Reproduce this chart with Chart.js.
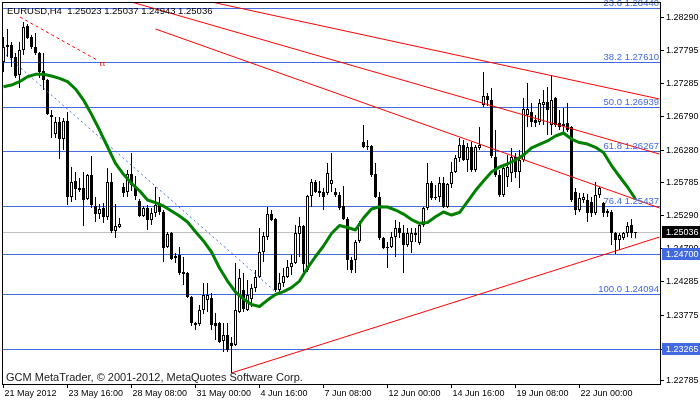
<!DOCTYPE html>
<html>
<head>
<meta charset="utf-8">
<script src="https://cdn.jsdelivr.net/npm/chart.js@4.4.1/dist/chart.umd.min.js"></script>
<style>
html, body { margin: 0; padding: 0; background: #fff; }
</style>
</head>
<body>
<canvas id="chart" width="700" height="402"></canvas>
<script>
// EURUSD H4, one entry per bar (bar 0 = 21 May 2012 00:00)
const opens = [
1.27615,1.27842,1.27872,1.27690,1.27417,1.27796,1.28160,1.27993,1.27842,1.27751,
1.27478,1.27342,1.26811,1.26523,1.26706,1.26448,1.26721,1.25569,1.25812,1.25706,
1.25706,1.25539,1.25902,1.25433,1.25311,1.25403,1.25266,1.25797,1.25054,1.25115,
1.25721,1.25645,1.25917,1.25736,1.25509,1.25281,1.25403,1.25221,1.25327,1.25448,
1.25342,1.24812,1.25024,1.24645,1.24690,1.24433,1.24418,1.24054,1.23629,1.23644,
1.23857,1.24008,1.24039,1.23660,1.23660,1.23387,1.23478,1.23357,1.23326,1.23827,
1.24160,1.23857,1.24024,1.24190,1.24357,1.24736,1.24963,1.25311,1.25236,1.24160,
1.24266,1.24357,1.24508,1.24569,1.25008,1.25130,1.24463,1.25584,1.25797,1.25660,
1.25645,1.25630,1.25766,1.25645,1.25599,1.25433,1.25236,1.24614,1.24614,1.24903,
1.26403,1.26342,1.26342,1.25917,1.25569,1.24948,1.24812,1.24812,1.24963,1.25100,
1.25024,1.24842,1.24888,1.25024,1.24873,1.25145,1.25403,1.25782,1.25569,1.25569,
1.25782,1.25418,1.25766,1.25948,1.26160,1.26357,1.26130,1.26327,1.25978,1.26312,
1.26963,1.27099,1.27039,1.26175,1.25902,1.25599,1.25872,1.25933,1.26175,1.25948,
1.26130,1.26811,1.26857,1.26736,1.26706,1.26963,1.27009,1.26660,1.27069,1.26691,
1.26676,1.26691,1.26630,1.25645,1.25372,1.25524,1.25524,1.25494,1.25327,1.25599,
1.25479,1.25327,1.25342,1.25024,1.24918,1.24948,1.25024,1.25145,1.25023
];
const highs = [
1.27993,1.28115,1.27918,1.27751,1.27918,1.28221,1.28190,1.28023,1.28054,1.27766,
1.27751,1.27357,1.26887,1.26781,1.26781,1.26766,1.26857,1.26024,1.25948,1.25857,
1.25948,1.25917,1.26190,1.25569,1.25463,1.25479,1.26009,1.25933,1.25463,1.25251,
1.25782,1.25978,1.26236,1.25887,1.25539,1.25433,1.25448,1.25403,1.25721,1.25569,
1.25372,1.25039,1.25039,1.24721,1.24812,1.24660,1.24433,1.24069,1.23675,1.23932,
1.24266,1.24266,1.24115,1.23812,1.23675,1.23660,1.23660,1.23448,1.24569,1.24478,
1.24418,1.24311,1.24250,1.24463,1.25100,1.25039,1.25418,1.25372,1.25251,1.24418,
1.24493,1.24614,1.24690,1.25145,1.25266,1.25145,1.25599,1.25842,1.25827,1.25812,
1.25706,1.26085,1.26236,1.25706,1.25645,1.25736,1.25266,1.24660,1.24918,1.25206,
1.26660,1.26433,1.26357,1.26085,1.25645,1.24963,1.24888,1.25039,1.25221,1.25191,
1.25145,1.25100,1.25100,1.25100,1.25176,1.25418,1.26085,1.25812,1.25751,1.25872,
1.25872,1.25782,1.26100,1.26205,1.26463,1.26433,1.26388,1.26403,1.26357,1.26630,
1.27463,1.27145,1.27221,1.26584,1.25978,1.26024,1.26205,1.26312,1.26236,1.26281,
1.27069,1.27297,1.26994,1.26811,1.27054,1.27190,1.27236,1.27417,1.27084,1.26887,
1.26918,1.26994,1.26645,1.25706,1.25630,1.25630,1.25615,1.25569,1.25797,1.25721,
1.25494,1.25388,1.25372,1.25039,1.25024,1.25039,1.25191,1.25236,1.25037
];
const lows = [
1.27463,1.27690,1.27539,1.27372,1.27221,1.27720,1.27963,1.27812,1.27720,1.27372,
1.27190,1.26811,1.26463,1.26463,1.26145,1.26281,1.25448,1.25494,1.25524,1.25645,
1.25130,1.25524,1.25403,1.25191,1.25236,1.25176,1.25221,1.25024,1.24948,1.25100,
1.25569,1.25569,1.25660,1.25524,1.25266,1.25266,1.25069,1.25145,1.25266,1.25296,
1.24584,1.24797,1.24614,1.24569,1.24387,1.24235,1.24039,1.23614,1.23554,1.23614,
1.23796,1.23827,1.23554,1.23402,1.23357,1.23221,1.23221,1.22903,1.23311,1.23812,
1.23827,1.23842,1.23902,1.24130,1.24342,1.24584,1.24918,1.25206,1.24130,1.24115,
1.24205,1.24342,1.24387,1.24553,1.24660,1.24433,1.24433,1.25418,1.25630,1.25569,
1.25372,1.25599,1.25645,1.25569,1.25372,1.25221,1.24463,1.24418,1.24418,1.24873,
1.26312,1.26281,1.25872,1.25554,1.24918,1.24782,1.24493,1.24797,1.24660,1.24948,
1.24418,1.24812,1.24721,1.24888,1.24842,1.25115,1.25372,1.25524,1.25524,1.25494,
1.25403,1.25403,1.25706,1.25933,1.26100,1.26115,1.25948,1.25948,1.25948,1.26281,
1.26933,1.26948,1.26160,1.25872,1.25569,1.25569,1.25721,1.25797,1.25857,1.25706,
1.26100,1.26630,1.26630,1.26630,1.26660,1.26660,1.26508,1.26508,1.26630,1.26584,
1.26508,1.26554,1.25494,1.25296,1.25342,1.25479,1.25191,1.25266,1.25296,1.25554,
1.25266,1.25266,1.24842,1.24705,1.24766,1.24918,1.24963,1.24948,1.24943
];
const closes = [
1.27842,1.27872,1.27675,1.27402,1.27796,1.28145,1.27978,1.27842,1.27751,1.27463,
1.27342,1.26826,1.26781,1.26706,1.26448,1.26721,1.25569,1.25797,1.25691,1.25675,
1.25524,1.25902,1.25448,1.25311,1.25388,1.25266,1.25797,1.25054,1.25130,1.25160,
1.25630,1.25917,1.25751,1.25584,1.25281,1.25403,1.25221,1.25327,1.25448,1.25342,
1.24797,1.25008,1.24630,1.24675,1.24418,1.24402,1.24054,1.23660,1.23660,1.23857,
1.24084,1.24084,1.23629,1.23614,1.23372,1.23478,1.23251,1.23311,1.23857,1.24342,
1.23872,1.24084,1.24190,1.24357,1.24736,1.24978,1.25311,1.25221,1.24160,1.24266,
1.24372,1.24508,1.24569,1.25024,1.25130,1.24553,1.25584,1.25797,1.25645,1.25630,
1.25569,1.25933,1.25827,1.25599,1.25403,1.25236,1.24614,1.24463,1.24888,1.25176,
1.26327,1.26327,1.25902,1.25569,1.24948,1.24797,1.24797,1.24963,1.25100,1.25024,
1.24842,1.25024,1.25024,1.24993,1.25145,1.25403,1.25782,1.25554,1.25554,1.25782,
1.25418,1.25766,1.25948,1.26160,1.26357,1.26130,1.26327,1.25978,1.26327,1.26357,
1.27099,1.27039,1.26190,1.25902,1.25599,1.26009,1.26024,1.26175,1.25948,1.26130,
1.26903,1.26903,1.26706,1.26691,1.26994,1.27009,1.26887,1.27039,1.26660,1.26630,
1.26645,1.26584,1.25524,1.25372,1.25554,1.25569,1.25327,1.25327,1.25599,1.25706,
1.25327,1.25357,1.25024,1.24918,1.24993,1.25024,1.25130,1.25024,1.25036
];

// moving average, read every second bar
const maValues = [
1.27240,1.27266,1.27316,1.27391,1.27428,1.27428,1.27402,1.27367,1.27316,1.27206,
1.27039,1.26822,1.26584,1.26331,1.26080,1.25913,1.25777,1.25664,1.25524,1.25483,
1.25433,1.25357,1.25281,1.25191,1.25043,1.24903,1.24736,1.24493,1.24296,1.24130,
1.24024,1.23940,1.23910,1.24008,1.24092,1.24137,1.24197,1.24296,1.24493,1.24668,
1.24827,1.25016,1.25138,1.25107,1.25069,1.25251,1.25388,1.25422,1.25418,1.25372,
1.25311,1.25228,1.25171,1.25183,1.25271,1.25342,1.25296,1.25334,1.25501,1.25667,
1.25812,1.25948,1.26024,1.26069,1.26130,1.26205,1.26312,1.26365,1.26418,1.26494,
1.26539,1.26448,1.26395,1.26372,1.26322,1.26243,1.26046,1.25880,1.25721,1.25539
];

// drawn objects: [bar, price, bar, price]
const redLines = [
  [52, 1.28524, 164, 1.27054],
  [32, 1.28524, 164, 1.26220],
  [38, 1.28115, 164, 1.25403],
  [57, 1.22903, 164, 1.24963]
];
const redDashed = [4.1, 1.28296, 23.4, 1.27645];
const blueDotted = [0.6, 1.27720, 68.1, 1.24130];

const fibLevels = ['23.6', '38.2', '50.0', '61.8', '76.4', '100.0'];
const fibPrices = [1.28440, 1.27610, 1.26939, 1.26267, 1.25437, 1.24094];
const hLinePrices = [1.24700, 1.23265];
const bidPrice = 1.25036;

const yMin = 1.22736, yMax = 1.28524;
const yTickVals = [1.28290, 1.27795, 1.27285, 1.26790, 1.26280, 1.25785, 1.25290, 1.24790, 1.24285, 1.23775, 1.23265, 1.22785];
const xTickBars = [0, 16, 32, 48, 64, 80, 96, 112, 128, 144];
const xTickLabels = ['21 May 2012', '23 May 16:00', '28 May 08:00', '31 May 00:00', '4 Jun 16:00',
                     '7 Jun 08:00', '12 Jun 00:00', '14 Jun 16:00', '19 Jun 08:00', '22 Jun 00:00'];

const FONT = 'Liberation Sans';

const wickData = lows.map((l, i) => ({x: i, y: [l, highs[i]]}));
const bodyData = opens.map((o, i) => ({x: i, y: [o, closes[i]]}));
const bodyFill = opens.map((o, i) => closes[i] >= o ? '#ffffff' : '#000000');
const maData = maValues.map((v, k) => ({x: k * 2, y: v}));

function seg(s) {
    return [{x: s[0], y: s[1]}, {x: s[2], y: s[3]}];
}
function lineSet(points, color, dash, order) {
    return {type: 'line', data: points, borderColor: color, borderWidth: 1, borderDash: dash,
            pointRadius: 0, fill: false, tension: 0, order: order};
}

const levels = {
    id: 'levels',
    beforeDatasetsDraw(chart) {
        const {ctx, chartArea: a, scales: {y}} = chart;
        ctx.save();
        ctx.lineWidth = 1;
        const hline = (p, color) => {
            const py = Math.round(y.getPixelForValue(p)) + 0.5;
            ctx.strokeStyle = color;
            ctx.beginPath();
            ctx.moveTo(a.left, py);
            ctx.lineTo(a.right, py);
            ctx.stroke();
        };
        hline(bidPrice, '#c0c0c0');
        fibPrices.forEach(p => hline(p, '#4169e1'));
        hLinePrices.forEach(p => hline(p, '#4169e1'));
        ctx.restore();
    },
    afterDatasetsDraw(chart) {
        const {ctx, chartArea: a, scales: {x, y}} = chart;
        ctx.save();
        ctx.font = '9.5px "' + FONT + '"';
        ctx.fillStyle = '#4169e1';
        ctx.textAlign = 'right';
        ctx.textBaseline = 'alphabetic';
        fibPrices.forEach((p, k) => {
            const py = Math.round(y.getPixelForValue(p));
            ctx.fillText(fibLevels[k] + ' ' + p.toFixed(5), a.right - 1, py - 2);
        });
        // small end marks of the dashed line
        ctx.fillStyle = '#ff0000';
        ctx.font = '8px "' + FONT + '"';
        ctx.textAlign = 'left';
        ctx.textBaseline = 'top';
        ctx.fillText('\u03c4\u03c4', x.getPixelForValue(redDashed[2]) + 2, y.getPixelForValue(redDashed[3]) + 0);
        ctx.textBaseline = 'middle';
        ctx.fillStyle = '#000';
        ctx.font = '9.5px "' + FONT + '"';
        ctx.fillText('EURUSD,H4  1.25023 1.25037 1.24943 1.25036', 7, 11);
        ctx.font = '11px "' + FONT + '"';
        ctx.fillStyle = '#1a1a1a';
        ctx.fillText('GCM MetaTrader, \u00a9 2001-2012, MetaQuotes Software Corp.', 6, 377.5);
        ctx.restore();
    },
    afterDraw(chart) {
        const {ctx, chartArea: a, scales: {y}} = chart;
        ctx.save();
        ctx.strokeStyle = '#000';
        ctx.lineWidth = 1;
        ctx.strokeRect(a.left + 0.5, a.top + 0.5, a.right - a.left, a.bottom - a.top);
        ctx.font = '9px "' + FONT + '"';
        ctx.textBaseline = 'middle';
        ctx.textAlign = 'left';
        const box = (p, bg) => {
            const py = Math.round(y.getPixelForValue(p));
            ctx.fillStyle = bg;
            ctx.fillRect(a.right + 2, py - 6, 40, 12);
            ctx.fillStyle = '#fff';
            ctx.fillText(p.toFixed(5), a.right + 6, py + 0.5);
        };
        box(bidPrice, '#000');
        hLinePrices.forEach(p => box(p, '#4169e1'));
        ctx.restore();
    }
};

new Chart(document.getElementById('chart').getContext('2d'), {
    type: 'bar',
    data: {
        datasets: [
            {type: 'line', data: maData, borderColor: '#008000', borderWidth: 3, pointRadius: 0,
             fill: false, tension: 0, borderJoinStyle: 'round', order: 0},
            ...redLines.map(s => lineSet(seg(s), '#ff0000', [], 1)),
            lineSet(seg(redDashed), '#ff0000', [3, 3], 1),
            lineSet(seg(blueDotted), '#4169e1', [2, 3], 1),
            {type: 'bar', data: bodyData, backgroundColor: bodyFill, borderColor: '#000', borderWidth: 1,
             borderSkipped: false, barThickness: 3, grouped: false, minBarLength: 1, inflateAmount: 0, order: 2},
            {type: 'bar', data: wickData, backgroundColor: '#000', borderWidth: 0,
             barThickness: 1, grouped: false, inflateAmount: 0, order: 3}
        ]
    },
    options: {
        responsive: false,
        animation: false,
        events: [],
        layout: {padding: {left: 2, top: 2, right: 0, bottom: 0}},
        plugins: {legend: {display: false}, tooltip: {enabled: false}},
        scales: {
            x: {
                type: 'linear', min: -0.375, max: 164.125, offset: false,
                grid: {display: true, offset: false, drawOnChartArea: false, drawTicks: true, tickLength: 4, color: '#000'},
                border: {display: false},
                ticks: {
                    autoSkip: false, maxRotation: 0, align: 'start', labelOffset: 1, padding: 0,
                    color: '#000', font: {family: FONT, size: 9},
                    callback: v => xTickLabels[xTickBars.indexOf(v)]
                },
                afterBuildTicks: s => { s.ticks = xTickBars.map(v => ({value: v})); },
                afterFit: s => { s.height = 18; s.paddingLeft = 0; s.paddingRight = 0; }
            },
            y: {
                type: 'linear', position: 'right', min: yMin, max: yMax,
                grid: {display: true, drawOnChartArea: false, drawTicks: true, tickLength: 4, color: '#000'},
                border: {display: false},
                ticks: {
                    autoSkip: false, padding: 2, color: '#000', font: {family: FONT, size: 9},
                    callback: v => v.toFixed(5)
                },
                afterBuildTicks: s => { s.ticks = yTickVals.map(v => ({value: v})); },
                afterFit: s => { s.width = 40; s.paddingTop = 0; s.paddingBottom = 0; }
            }
        }
    },
    plugins: [levels]
});
</script>
</body>
</html>
